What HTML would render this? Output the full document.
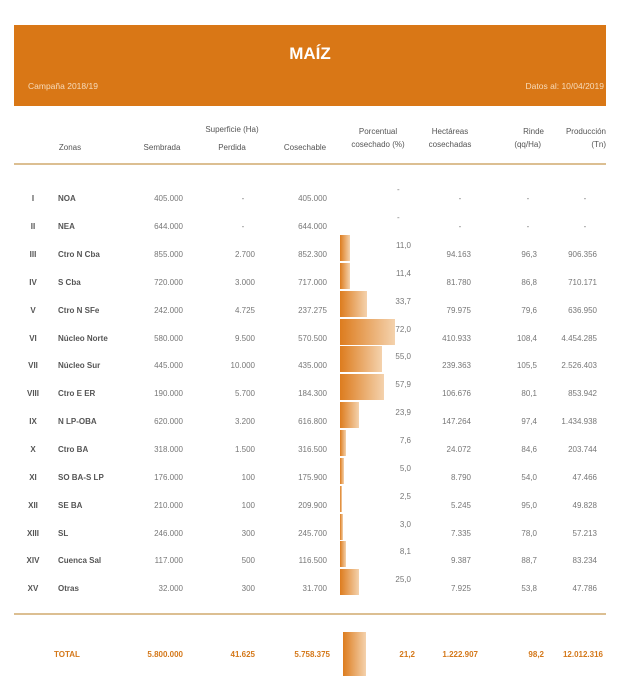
<!DOCTYPE html>
<html><head><meta charset="utf-8"><style>
*{margin:0;padding:0}
body{width:620px;height:686px;background:#fff;position:relative;overflow:hidden;font-family:"Liberation Sans",sans-serif;color:#777;font-size:8px}
div{position:absolute;line-height:10px;white-space:nowrap}
.r{text-align:right}
.c{text-align:center}
.z{color:#555;font-weight:bold;font-size:8px}
.b{background:linear-gradient(to right,#dd7c1e,#f4d2ad);height:26px;left:340px}
.h{color:#555;font-size:8px}
.t{color:#d4781a;font-weight:bold}
</style></head><body>
<div style="left:14px;top:25px;width:592px;height:81px;background:#d97716"></div>
<div style="left:0;width:620px;top:44px;line-height:20px;text-align:center;color:#fff;font-weight:bold;font-size:17px">MAÍZ</div>
<div style="left:28px;top:81px;color:#f7dcbc;font-size:8.5px">Campaña 2018/19</div>
<div style="right:16px;top:81px;color:#f7dcbc;font-size:8.5px">Datos al: 10/04/2019</div>

<div class="h c" style="left:192px;width:80px;top:125px">Superficie (Ha)</div>
<div class="h c" style="left:40px;width:60px;top:143px">Zonas</div>
<div class="h c" style="left:132px;width:60px;top:143px">Sembrada</div>
<div class="h c" style="left:202px;width:60px;top:143px">Perdida</div>
<div class="h c" style="left:275px;width:60px;top:143px">Cosechable</div>
<div class="h c" style="left:338px;width:80px;top:127px">Porcentual</div>
<div class="h c" style="left:338px;width:80px;top:140px">cosechado (%)</div>
<div class="h c" style="left:410px;width:80px;top:127px">Hectáreas</div>
<div class="h c" style="left:410px;width:80px;top:140px">cosechadas</div>
<div class="h r" style="right:76px;top:127px">Rinde</div>
<div class="h r" style="right:79px;top:140px">(qq/Ha)</div>
<div class="h r" style="right:14px;top:127px">Producción</div>
<div class="h r" style="right:14px;top:140px">(Tn)</div>
<div style="left:14px;top:163px;width:592px;height:2px;background:#dcbf92"></div>

<div class="z c" style="left:18px;width:30px;top:194px">I</div><div class="z" style="left:58px;top:194px">NOA</div><div class="r" style="right:437px;top:194px">405.000</div><div class="c" style="left:233px;width:20px;top:194px">-</div><div class="r" style="right:293px;top:194px">405.000</div><div style="left:397px;top:185px">-</div><div class="c" style="left:450px;width:20px;top:194px">-</div><div class="c" style="left:518px;width:20px;top:194px">-</div><div class="c" style="left:575px;width:20px;top:194px">-</div>
<div class="z c" style="left:18px;width:30px;top:222px">II</div><div class="z" style="left:58px;top:222px">NEA</div><div class="r" style="right:437px;top:222px">644.000</div><div class="c" style="left:233px;width:20px;top:222px">-</div><div class="r" style="right:293px;top:222px">644.000</div><div style="left:397px;top:213px">-</div><div class="c" style="left:450px;width:20px;top:222px">-</div><div class="c" style="left:518px;width:20px;top:222px">-</div><div class="c" style="left:575px;width:20px;top:222px">-</div>

<div class="z c" style="left:18px;width:30px;top:250px">III</div><div class="z" style="left:58px;top:250px">Ctro N Cba</div><div class="r" style="right:437px;top:250px">855.000</div><div class="r" style="right:365px;top:250px">2.700</div><div class="r" style="right:293px;top:250px">852.300</div><div class="b" style="top:235px;width:10px"></div><div class="r" style="right:209px;top:241px">11,0</div><div class="r" style="right:149px;top:250px">94.163</div><div class="r" style="right:83px;top:250px">96,3</div><div class="r" style="right:23px;top:250px">906.356</div>
<div class="z c" style="left:18px;width:30px;top:278px">IV</div><div class="z" style="left:58px;top:278px">S Cba</div><div class="r" style="right:437px;top:278px">720.000</div><div class="r" style="right:365px;top:278px">3.000</div><div class="r" style="right:293px;top:278px">717.000</div><div class="b" style="top:263px;width:10px"></div><div class="r" style="right:209px;top:269px">11,4</div><div class="r" style="right:149px;top:278px">81.780</div><div class="r" style="right:83px;top:278px">86,8</div><div class="r" style="right:23px;top:278px">710.171</div>
<div class="z c" style="left:18px;width:30px;top:306px">V</div><div class="z" style="left:58px;top:306px">Ctro N SFe</div><div class="r" style="right:437px;top:306px">242.000</div><div class="r" style="right:365px;top:306px">4.725</div><div class="r" style="right:293px;top:306px">237.275</div><div class="b" style="top:291px;width:27px"></div><div class="r" style="right:209px;top:297px">33,7</div><div class="r" style="right:149px;top:306px">79.975</div><div class="r" style="right:83px;top:306px">79,6</div><div class="r" style="right:23px;top:306px">636.950</div>
<div class="z c" style="left:18px;width:30px;top:334px">VI</div><div class="z" style="left:58px;top:334px">Núcleo Norte</div><div class="r" style="right:437px;top:334px">580.000</div><div class="r" style="right:365px;top:334px">9.500</div><div class="r" style="right:293px;top:334px">570.500</div><div class="b" style="top:319px;width:55px"></div><div class="r" style="right:209px;top:325px">72,0</div><div class="r" style="right:149px;top:334px">410.933</div><div class="r" style="right:83px;top:334px">108,4</div><div class="r" style="right:23px;top:334px">4.454.285</div>
<div class="z c" style="left:18px;width:30px;top:361px">VII</div><div class="z" style="left:58px;top:361px">Núcleo Sur</div><div class="r" style="right:437px;top:361px">445.000</div><div class="r" style="right:365px;top:361px">10.000</div><div class="r" style="right:293px;top:361px">435.000</div><div class="b" style="top:346px;width:42px"></div><div class="r" style="right:209px;top:352px">55,0</div><div class="r" style="right:149px;top:361px">239.363</div><div class="r" style="right:83px;top:361px">105,5</div><div class="r" style="right:23px;top:361px">2.526.403</div>
<div class="z c" style="left:18px;width:30px;top:389px">VIII</div><div class="z" style="left:58px;top:389px">Ctro E ER</div><div class="r" style="right:437px;top:389px">190.000</div><div class="r" style="right:365px;top:389px">5.700</div><div class="r" style="right:293px;top:389px">184.300</div><div class="b" style="top:374px;width:44px"></div><div class="r" style="right:209px;top:380px">57,9</div><div class="r" style="right:149px;top:389px">106.676</div><div class="r" style="right:83px;top:389px">80,1</div><div class="r" style="right:23px;top:389px">853.942</div>
<div class="z c" style="left:18px;width:30px;top:417px">IX</div><div class="z" style="left:58px;top:417px">N LP-OBA</div><div class="r" style="right:437px;top:417px">620.000</div><div class="r" style="right:365px;top:417px">3.200</div><div class="r" style="right:293px;top:417px">616.800</div><div class="b" style="top:402px;width:19px"></div><div class="r" style="right:209px;top:408px">23,9</div><div class="r" style="right:149px;top:417px">147.264</div><div class="r" style="right:83px;top:417px">97,4</div><div class="r" style="right:23px;top:417px">1.434.938</div>
<div class="z c" style="left:18px;width:30px;top:445px">X</div><div class="z" style="left:58px;top:445px">Ctro BA</div><div class="r" style="right:437px;top:445px">318.000</div><div class="r" style="right:365px;top:445px">1.500</div><div class="r" style="right:293px;top:445px">316.500</div><div class="b" style="top:430px;width:6px"></div><div class="r" style="right:209px;top:436px">7,6</div><div class="r" style="right:149px;top:445px">24.072</div><div class="r" style="right:83px;top:445px">84,6</div><div class="r" style="right:23px;top:445px">203.744</div>
<div class="z c" style="left:18px;width:30px;top:473px">XI</div><div class="z" style="left:58px;top:473px">SO BA-S LP</div><div class="r" style="right:437px;top:473px">176.000</div><div class="r" style="right:365px;top:473px">100</div><div class="r" style="right:293px;top:473px">175.900</div><div class="b" style="top:458px;width:4px"></div><div class="r" style="right:209px;top:464px">5,0</div><div class="r" style="right:149px;top:473px">8.790</div><div class="r" style="right:83px;top:473px">54,0</div><div class="r" style="right:23px;top:473px">47.466</div>
<div class="z c" style="left:18px;width:30px;top:501px">XII</div><div class="z" style="left:58px;top:501px">SE BA</div><div class="r" style="right:437px;top:501px">210.000</div><div class="r" style="right:365px;top:501px">100</div><div class="r" style="right:293px;top:501px">209.900</div><div class="b" style="top:486px;width:2px"></div><div class="r" style="right:209px;top:492px">2,5</div><div class="r" style="right:149px;top:501px">5.245</div><div class="r" style="right:83px;top:501px">95,0</div><div class="r" style="right:23px;top:501px">49.828</div>
<div class="z c" style="left:18px;width:30px;top:529px">XIII</div><div class="z" style="left:58px;top:529px">SL</div><div class="r" style="right:437px;top:529px">246.000</div><div class="r" style="right:365px;top:529px">300</div><div class="r" style="right:293px;top:529px">245.700</div><div class="b" style="top:514px;width:3px"></div><div class="r" style="right:209px;top:520px">3,0</div><div class="r" style="right:149px;top:529px">7.335</div><div class="r" style="right:83px;top:529px">78,0</div><div class="r" style="right:23px;top:529px">57.213</div>
<div class="z c" style="left:18px;width:30px;top:556px">XIV</div><div class="z" style="left:58px;top:556px">Cuenca Sal</div><div class="r" style="right:437px;top:556px">117.000</div><div class="r" style="right:365px;top:556px">500</div><div class="r" style="right:293px;top:556px">116.500</div><div class="b" style="top:541px;width:6px"></div><div class="r" style="right:209px;top:547px">8,1</div><div class="r" style="right:149px;top:556px">9.387</div><div class="r" style="right:83px;top:556px">88,7</div><div class="r" style="right:23px;top:556px">83.234</div>
<div class="z c" style="left:18px;width:30px;top:584px">XV</div><div class="z" style="left:58px;top:584px">Otras</div><div class="r" style="right:437px;top:584px">32.000</div><div class="r" style="right:365px;top:584px">300</div><div class="r" style="right:293px;top:584px">31.700</div><div class="b" style="top:569px;width:19px"></div><div class="r" style="right:209px;top:575px">25,0</div><div class="r" style="right:149px;top:584px">7.925</div><div class="r" style="right:83px;top:584px">53,8</div><div class="r" style="right:23px;top:584px">47.786</div>

<div style="left:14px;top:613px;width:592px;height:2px;background:#dcbf92"></div>
<div class="t" style="left:54px;top:650px">TOTAL</div>
<div class="t r" style="right:437px;top:650px">5.800.000</div>
<div class="t r" style="right:365px;top:650px">41.625</div>
<div class="t r" style="right:290px;top:650px">5.758.375</div>
<div style="left:343px;top:632px;width:23px;height:44px;background:linear-gradient(to right,#dd7c1e,#f4d2ad)"></div>
<div class="t r" style="right:205px;top:650px">21,2</div>
<div class="t r" style="right:142px;top:650px">1.222.907</div>
<div class="t r" style="right:76px;top:650px">98,2</div>
<div class="t r" style="right:17px;top:650px">12.012.316</div>
</body></html>
